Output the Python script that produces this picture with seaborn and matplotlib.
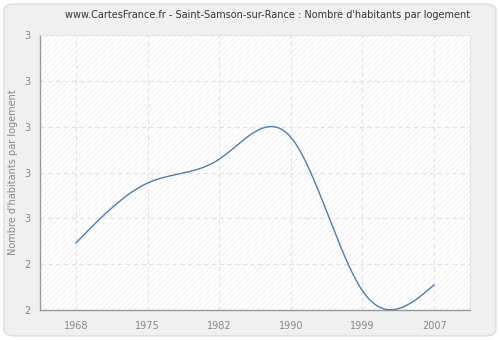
import numpy as np
import pandas as pd
import matplotlib
matplotlib.use("Agg")
import matplotlib.pyplot as plt
import seaborn as sns
from matplotlib.patches import FancyBboxPatch, Rectangle

years = ["1968", "1975", "1982", "1990", "1999", "2007"]
values = [2.446, 2.577, 2.629, 2.677, 2.342, 2.355]
ytick_values = [2.3, 2.4, 2.5, 2.6, 2.7, 2.8, 2.9]
ytick_labels = ["2", "2", "3", "3", "3", "3", "3"]
title = "www.CartesFrance.fr - Saint-Samson-sur-Rance : Nombre d'habitants par logement"
ylabel = "Nombre d'habitants par logement"


def natural_spline(x, y, n=400):
    x = np.asarray(x, float)
    y = np.asarray(y, float)
    m = len(x)
    h = np.diff(x)
    A = np.zeros((m, m))
    b = np.zeros(m)
    A[0, 0] = 1
    A[-1, -1] = 1
    for i in range(1, m - 1):
        A[i, i - 1] = h[i - 1]
        A[i, i] = 2 * (h[i - 1] + h[i])
        A[i, i + 1] = h[i]
        b[i] = 3 * ((y[i + 1] - y[i]) / h[i] - (y[i] - y[i - 1]) / h[i - 1])
    c = np.linalg.solve(A, b)
    xs = np.linspace(x[0], x[-1], n)
    ys = np.empty_like(xs)
    for k, xv in enumerate(xs):
        i = min(np.searchsorted(x, xv, side="right") - 1, m - 2)
        dx = xv - x[i]
        bi = (y[i + 1] - y[i]) / h[i] - h[i] * (2 * c[i] + c[i + 1]) / 3
        di = (c[i + 1] - c[i]) / (3 * h[i])
        ys[k] = y[i] + bi * dx + c[i] * dx ** 2 + di * dx ** 3
    return xs, ys


sns.set_style("white")
plt.rcParams["font.family"] = ["DejaVu Sans"]
plt.rcParams["hatch.linewidth"] = 0.6

fig = plt.figure(figsize=(5.0, 3.4), dpi=100)
fig.patch.set_facecolor("white")
bg = FancyBboxPatch((0.008, 0.012), 0.984, 0.976,
                    boxstyle="round,pad=0,rounding_size=0.02",
                    transform=fig.transFigure, facecolor="#f0f0f0",
                    edgecolor="#dddddd", linewidth=1.0, zorder=-5)
fig.patches.append(bg)

ax = fig.add_axes([0.08, 0.088, 0.86, 0.809])
ax.set_zorder(2)
ax.set_facecolor("white")
ax.add_patch(Rectangle((0, 0), 1, 1, transform=ax.transAxes, facecolor="white",
                       edgecolor="#efefef", hatch="//////", linewidth=0, zorder=0))

idx = np.arange(len(years))
xs, ys = natural_spline(idx, values)
df = pd.DataFrame({"x": xs, "y": ys})
sns.lineplot(data=df, x="x", y="y", ax=ax, color="#4f7db3", linewidth=1.0,
             zorder=3)

ax.set_xlim(-0.5, len(years) - 0.5)
ax.set_ylim(2.3, 2.9)
ax.set_xticks(idx)
ax.set_xticklabels(years)
ax.set_yticks(ytick_values)
ax.set_yticklabels(ytick_labels)
ax.set_xlabel("")
ax.set_ylabel(ylabel, color="#888888", fontsize=7)
ax.grid(True, color="#e2e2e2", linestyle=(0, (4, 3)), linewidth=0.8, zorder=1)
ax.set_axisbelow(True)

for s in ["top", "right"]:
    ax.spines[s].set_color("#e4e4e4")
    ax.spines[s].set_linewidth(0.8)
for s in ["left", "bottom"]:
    ax.spines[s].set_color("#999999")
    ax.spines[s].set_linewidth(1.0)

ax.tick_params(axis="both", colors="#999999", labelcolor="#888888",
               labelsize=7, length=4, width=0.8, direction="out", pad=3)
ax.tick_params(axis="x", pad=4)

fig.text(0.535, 0.955, title, ha="center", va="center", fontsize=7.0,
         color="#333333")

fig.savefig("out.png", dpi=100, facecolor=fig.get_facecolor())
